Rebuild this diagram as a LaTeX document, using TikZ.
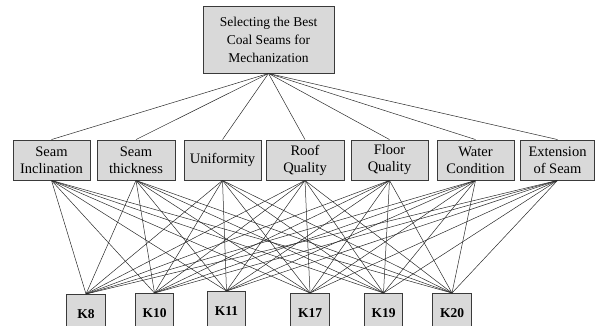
\documentclass[tikz,border=0pt]{standalone}
\usepackage{fontspec}
\setmainfont{Liberation Serif}
\definecolor{boxfill}{HTML}{D9D9D9}
\definecolor{boxline}{HTML}{3A3A3A}
\definecolor{edgecol}{HTML}{2A2A2A}
\begin{document}
\begin{tikzpicture}[x=1pt,y=-1pt,
  topbox/.style={draw=boxline, line width=0.9pt, fill=boxfill, minimum width=131pt, minimum height=67pt, inner sep=0pt, align=center, font=\fontsize{13.5}{18}\selectfont},
  midbox/.style={draw=boxline, line width=0.9pt, fill=boxfill, minimum width=77pt, minimum height=40pt, inner sep=0pt, align=center, font=\fontsize{14.5}{17}\selectfont},
  kbox/.style={draw=boxline, line width=0.9pt, fill=boxfill, minimum width=38.5pt, minimum height=40pt, inner sep=0pt, anchor=north, font=\fontsize{13.5}{16}\selectfont\bfseries},
  edge/.style={draw=edgecol, line width=0.5pt}]
\clip (0,0) rectangle (595,326);
% top
\node[topbox] (top) at (268.5,39.5) {Selecting the Best\\Coal Seams for\\Mechanization};
% criteria
\node[midbox] (m1) at (51.5,160) {Seam\\Inclination};
\node[midbox, minimum width=78pt] (m2) at (136,160) {Seam\\thickness};
\node[midbox] (m3) at (222.5,160) {Uniformity};
\node[midbox, minimum width=78pt] (m4) at (305,160) {Roof\\Quality};
\node[midbox] (m5) at (389.5,160) {Floor\\Quality};
\node[midbox] (m6) at (475.5,160) {Water\\Condition};
\node[midbox, minimum width=74pt] (m7) at (557.5,160) {Extension\\of Seam};
% alternatives
\node[kbox] (k1) at (86,294) {\raisebox{-2pt}{K8}};
\node[kbox] (k2) at (154.5,293) {\raisebox{-2pt}{K10}};
\node[kbox] (k3) at (226.5,291) {\raisebox{-2pt}{K11}};
\node[kbox] (k4) at (310,293) {\raisebox{-2pt}{K17}};
\node[kbox] (k5) at (383.5,293) {\raisebox{-2pt}{K19}};
\node[kbox] (k6) at (452,293) {\raisebox{-2pt}{K20}};
% edges
\foreach \m in {1,...,7} {
  \draw[edge] (top.south) -- (m\m.north);
  \foreach \k in {1,...,6} {
    \draw[edge] (m\m.south) -- (k\k.north);
  }
}
\end{tikzpicture}
\end{document}
